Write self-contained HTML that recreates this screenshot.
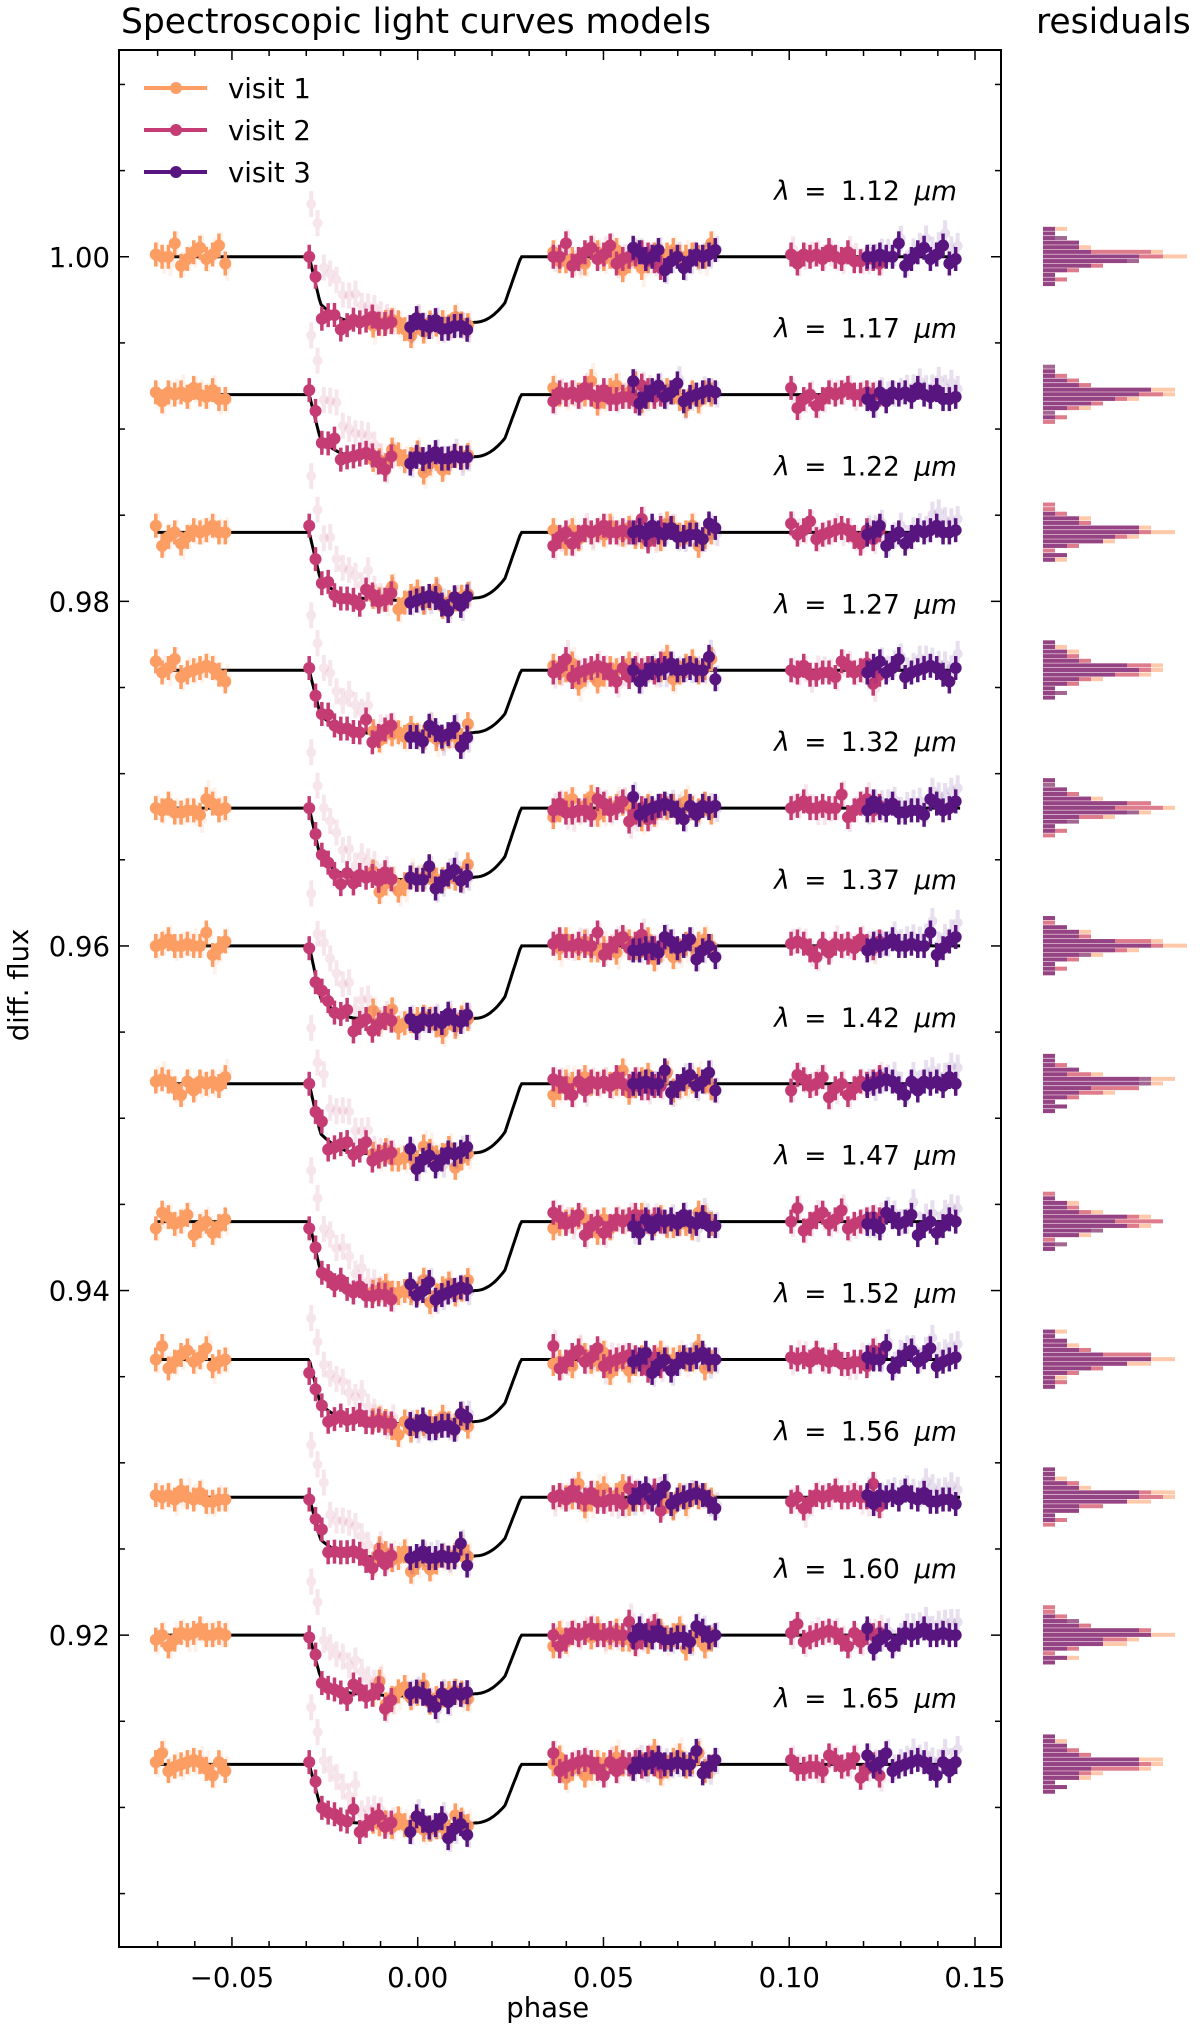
<!DOCTYPE html>
<html><head><meta charset="utf-8">
<style>
html,body{margin:0;padding:0;background:#fff;}
svg{display:block;font-family:"DejaVu Sans","Liberation Sans",sans-serif;}
</style></head>
<body>
<svg id="chart" width="1200" height="2031" viewBox="0 0 1200 2031" xmlns="http://www.w3.org/2000/svg"></svg>
<script>
// ---- data ----
const wavelengths = ["1.12","1.17","1.22","1.27","1.32","1.37","1.42","1.47","1.52","1.56","1.60","1.65"];
const offsets = [1.000,0.992,0.984,0.976,0.968,0.960,0.952,0.944,0.936,0.928,0.920,0.9125];
const depths = [0.0038,0.0036,0.0038,0.0036,0.0040,0.0042,0.0040,0.0040,0.0036,0.0034,0.0034,0.0034];
const xTicks = [-0.05,0.00,0.05,0.10,0.15];
const xTickLabels = ["\u22120.05","0.00","0.05","0.10","0.15"];
const yTicks = [1.00,0.98,0.96,0.94,0.92];
const yTickLabels = ["1.00","0.98","0.96","0.94","0.92"];
const visitNames = ["visit 1","visit 2","visit 3"];
const visitColors = ["#fc9d64","#c53c74","#58157f"];
// phase windows per visit [start, end, step]
const visit1Phases = [[-0.0705,-0.0515,0.0017],[-0.012,0.0148,0.0017],[0.0365,0.0805,0.0017]];
const visit2Phases = [[-0.0292,-0.006,0.0017],[0.0365,0.066,0.0017],[0.1005,0.1245,0.0017]];
const visit3Phases = [[-0.002,0.0148,0.0017],[0.058,0.0805,0.0017],[0.121,0.1465,0.0017]];
// typed residuals (units of 1e-4 in flux)
const residuals = [1,-2,4,0,-5,2,0,1,-1,6,-3,0,-4,1,3,-1,0,-6,2,1,-2,4,-1,0,-1,3,-5,1,0,-2,5,-1,1,-3,2,0,-1,-2,1,0,-2,3,1,-1,0,2,-1,0,1,-3];
const visitPhases = [visit1Phases, visit2Phases, visit3Phases];

// ---- axes ----
const L=119,R=1001,T=50,B=1947;
const xMin=-0.0804,xMax=0.1570,yMin=0.9019,yMax=1.0120;
const X=p=>L+(p-xMin)/(xMax-xMin)*(R-L);
const Y=f=>T+(yMax-f)/(yMax-yMin)*(B-T);
const NS="http://www.w3.org/2000/svg";
const svg=document.getElementById('chart');
function mk(tag,attrs,parent){const e=document.createElementNS(NS,tag);for(const k in attrs)e.setAttribute(k,attrs[k]);(parent||svg).appendChild(e);return e;}

function model(p,d){
  let f;
  if(p<-0.0292||p>0.0278) f=0;
  else if(p<-0.0262) f=0.72*(p+0.0292)/0.003;
  else if(p<-0.016){const t=(p+0.0262)/0.0102;f=0.72+0.28*(1-(1-t)*(1-t));}
  else if(p<0.0155) f=1+0.04*(1-Math.pow(p/0.016,2));
  else if(p<0.0235){const t=(p-0.0155)/0.008;f=1-0.3*t*t;}
  else f=0.7*(1-(p-0.0235)/0.0043);
  return 1-d*f;
}

const title=mk('text',{x:121,y:33,'font-size':34.5,fill:'#000'});title.textContent='Spectroscopic light curves models';


const rt=mk('text',{x:1036,y:33,'font-size':34.5,fill:'#000'});rt.textContent='residuals';



const plot=mk('g',{});



const hist=mk('g',{});



wavelengths.forEach((w,k)=>{
  const off=offsets[k], d=depths[k];
  const g=mk('g',{},plot);
  
  
  let pts=[];
  for(let p=-0.0705;p<=0.1465;p+=0.0005){pts.push(X(p).toFixed(1)+','+Y(off-1+model(p,d)).toFixed(1));}
  const ml=mk('polyline',{points:pts.join(' '),fill:'none',stroke:'#000','stroke-width':3},g);
  
  
  const lab=mk('text',{x:957,y:Y(off)-57,'font-size':26.5,'text-anchor':'end',fill:'#000','word-spacing':'6px'},g);
  lab.innerHTML='<tspan font-style="italic">λ</tspan> = '+w+' <tspan font-style="italic">μm</tspan>';
  
  
  const visitRes=[[],[],[]];
  visitPhases.forEach((wins,v)=>{
    const vg=mk('g',{},g);
    
    
    let i=0;
    wins.forEach((win,wi)=>{
      for(let p=win[0];p<=win[1];p+=win[2]){
        const r=residuals[(i*3+k*7+v*11)%residuals.length]*1.3e-4;
        const r2=residuals[(i*5+k*3+v*13+7)%residuals.length]*1e-4;
        visitRes[v].push(residuals[(i*3+k*7+v*11)%residuals.length]);
        const fv=off-1+model(p,d)+r;
        const cx=X(p),cy=Y(fv);
        const trend=(v===1&&wi===0)?0.003*Math.max(0,(-0.008-p))/0.02:(v===2&&wi===2?0.0008*(p-0.121)/0.025:0);
        const fy=Y(fv+r2*0.6+trend);
        const fd=mk('g',{opacity:0.13},vg);
        
        
        mk('line',{x1:cx+2,x2:cx+2,y1:fy-13,y2:fy+13,stroke:visitColors[v],'stroke-width':4},fd);
        mk('circle',{cx:cx+2,cy:fy,r:5,fill:visitColors[v]},fd);
        const pt=mk('g',{},vg);
        
        
        mk('line',{x1:cx,x2:cx,y1:cy-12,y2:cy+12,stroke:visitColors[v],'stroke-width':3.5},pt);
        mk('circle',{cx:cx,cy:cy,r:6,fill:visitColors[v]},pt);
        i++;
      }
    });
  });
  // histograms (residual units 1e-4, one bin per unit)
  const binPx=4.6;
  visitRes.forEach((arr,v)=>{
    const counts={};
    arr.forEach(r=>{counts[r]=(counts[r]||0)+1;});
    for(const b in counts){
      const yb=Y(off)-(+b)*binPx;
      const rc=mk('rect',{x:1043,y:yb-binPx/2,width:counts[b]*12,height:binPx-0.6,fill:visitColors[v],opacity:0.55},hist);
      
      
    }
  });
});

// frame and ticks
const ax=mk('g',{});


mk('rect',{x:L,y:T,width:R-L,height:B-T,fill:'none',stroke:'#000','stroke-width':2},ax);
for(let p=-0.07;p<=0.1501;p+=0.01){
  const major=xTicks.some(t=>Math.abs(t-p)<1e-6);const len=major?10:6;const x=X(p);
  mk('line',{x1:x,x2:x,y1:B,y2:B-len,stroke:'#000','stroke-width':1.5},ax);
  mk('line',{x1:x,x2:x,y1:T,y2:T+len,stroke:'#000','stroke-width':1.5},ax);
}
xTicks.forEach((t,i)=>{const tl=mk('text',{x:X(t),y:B+40,'font-size':27.5,'text-anchor':'middle',fill:'#000'},ax);tl.textContent=xTickLabels[i];

});
for(let f=0.905;f<=1.0101;f+=0.005){
  const major=yTicks.some(t=>Math.abs(t-f)<1e-6);const len=major?10:6;const y=Y(f);
  mk('line',{x1:L,x2:L+len,y1:y,y2:y,stroke:'#000','stroke-width':1.5},ax);
  mk('line',{x1:R,x2:R-len,y1:y,y2:y,stroke:'#000','stroke-width':1.5},ax);
}
yTicks.forEach((t,i)=>{const tl=mk('text',{x:L-9,y:Y(t)+10,'font-size':27.5,'text-anchor':'end',fill:'#000'},ax);tl.textContent=yTickLabels[i];

});
const xl=mk('text',{x:X(0.035),y:2017,'font-size':27.5,'text-anchor':'middle',fill:'#000'});xl.textContent='phase';


const yl=mk('text',{x:0,y:0,'font-size':27.5,'text-anchor':'middle',fill:'#000',transform:'translate(28,985) rotate(-90)'});yl.textContent='diff. flux';



// legend
const lg=mk('g',{});


visitNames.forEach((n,v)=>{
  const y=88+v*42;
  const e=mk('g',{},lg);
  
  
  mk('line',{x1:144,x2:207,y1:y,y2:y,stroke:visitColors[v],'stroke-width':4},e);
  mk('circle',{cx:176,cy:y,r:6,fill:visitColors[v]},e);
  const t=mk('text',{x:228,y:y+10,'font-size':27.5,fill:'#000'},e);t.textContent=n;
});
</script>
</body></html>
